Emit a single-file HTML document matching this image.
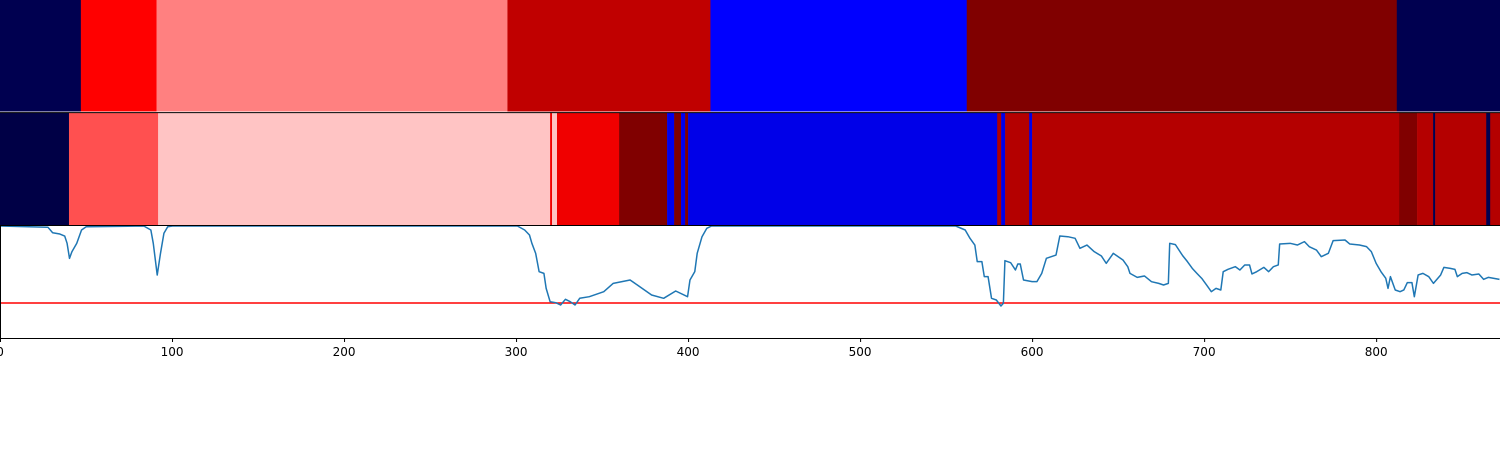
<!DOCTYPE html>
<html><head><meta charset="utf-8">
<style>
html,body{margin:0;padding:0;background:#fff;width:1500px;height:450px;overflow:hidden}
svg{display:block}
text{font-family:"DejaVu Sans","Liberation Sans",sans-serif;font-size:12px;fill:#000}
</style></head>
<body>
<svg id="chart" width="1500" height="450" viewBox="0 0 1500 450" xmlns="http://www.w3.org/2000/svg">
<g id="band1"></g>
<g id="band2"></g>
<g id="plot"></g>
<g id="axis"></g>
</svg>
<script>
const band1Bounds = [0,47,91,295,413,562,812,872];
const band1Colors = ["#000050","#ff0000","#ff8080","#c00000","#0000ff","#800000","#000050"];
const band2Bounds = [0,40.1,91.9,319.8,320.9,323.8,359.9,387.8,391.9,395.9,398.3,400,579.7,582,584.3,598.3,600,813.4,823.8,833.1,834.3,864,866.3,872];
const band2Colors = ["#000046","#ff5050","#ffc4c4","#f00000","#ffc4c4","#f00000","#800000","#0000f0","#800000","#0000f0","#800000","#0000e8","#b00000","#0000e8","#b40000","#0000e8","#b40000","#800000","#b40000","#000050","#b40000","#000050","#b40000"];
const lineX = [0,27.9,30.6,34.8,37.6,39,40.4,41.8,44.6,47.4,50.1,83.6,87.7,89.1,91.4,93.3,95.3,97.5,100.3,300.8,305,307.8,309.2,311.4,313.4,316.2,317.5,319.8,323.1,325.9,328.7,331.5,334.3,337,342.6,351,356.5,366.3,370.5,378.8,385.8,392.8,399.7,401.1,403.9,405.3,408.1,410.9,413.6,555.6,561.1,563.9,566.7,568.1,570.8,572.2,574.4,576.4,579.2,581.9,583.3,584.2,587.5,590.3,591.7,593.1,595,600,602.8,605.6,608.3,613.9,616.1,620.8,625,627.8,631.9,636.1,640.3,643.1,647.2,652.8,655.6,656.9,661.1,665.3,669.4,673.6,676.4,679.2,680,683.3,687.5,690.3,693.1,695.8,698.6,701.4,704.2,706.9,709.7,711.1,713.9,718.1,720.8,723.6,726.4,727.8,730.6,734.7,737.5,740.3,743.1,743.9,750,754.2,758.3,761.1,765.3,768.1,772.2,775,781.9,784.7,790.3,794.4,797.2,800,802.8,805.6,806.9,808.3,811.1,813.9,816.1,818.1,820.8,822.2,824.4,827.2,830.6,833.3,837.5,839.4,843.1,845.8,847.2,850,852.8,855.6,859.7,862.5,865.3,871.7];
const lineY = [1,0.983,0.913,0.896,0.87,0.775,0.58,0.666,0.775,0.948,0.99,1,0.948,0.775,0.364,0.645,0.905,0.99,1,1,0.948,0.883,0.775,0.645,0.407,0.385,0.19,0.017,0.004,-0.026,0.048,0.017,-0.026,0.061,0.082,0.147,0.255,0.299,0.234,0.104,0.061,0.156,0.082,0.299,0.407,0.645,0.861,0.97,1,1,0.948,0.84,0.753,0.537,0.537,0.342,0.342,0.061,0.039,-0.039,-0.004,0.55,0.524,0.429,0.507,0.507,0.299,0.277,0.277,0.385,0.58,0.623,0.87,0.861,0.84,0.71,0.753,0.667,0.61,0.515,0.645,0.559,0.472,0.385,0.333,0.351,0.277,0.255,0.234,0.255,0.775,0.758,0.615,0.537,0.45,0.385,0.32,0.234,0.147,0.19,0.169,0.407,0.437,0.472,0.429,0.494,0.494,0.377,0.407,0.463,0.407,0.472,0.494,0.766,0.775,0.753,0.797,0.732,0.688,0.602,0.645,0.81,0.818,0.766,0.753,0.732,0.667,0.515,0.407,0.32,0.19,0.342,0.169,0.147,0.169,0.264,0.264,0.082,0.364,0.385,0.342,0.255,0.364,0.463,0.45,0.437,0.342,0.385,0.394,0.364,0.377,0.307,0.333,0.307];
const threshold = 0;
const xTicks = [0,100,200,300,400,500,600,700,800];

const NS = "http://www.w3.org/2000/svg";
const X0 = 0, X1 = 1500, XMAX = 872;
const sx = v => X0 + v / XMAX * (X1 - X0);
const PT = 226, PB = 338;
const sy = v => 303 - Math.min(v, 1) * 77;

function mk(tag, attrs, parent){
  const e = document.createElementNS(NS, tag);
  for (const k in attrs) e.setAttribute(k, attrs[k]);
  parent.appendChild(e);
  return e;
}
function drawBand(gid, bounds, colors, y, h, name){
  const g = document.getElementById(gid);
  for (let i = 0; i < colors.length; i++){
    const r = mk('rect', {x: sx(bounds[i]), y: y, width: Math.max(0.5, sx(bounds[i+1]) - sx(bounds[i])) + 0.3, height: h, fill: colors[i]}, g);
    
    
  }
}
drawBand('band1', band1Bounds, band1Colors, 0, 111.5, 'top-band');
drawBand('band2', band2Bounds, band2Colors, 113, 112.5, 'second-band');
const svg = document.getElementById('chart');
const b1 = mk('line', {x1:0, x2:1500, y1:112.6, y2:112.6, stroke:'#000', 'stroke-width':1}, svg);


const b2 = mk('line', {x1:0, x2:1500, y1:225.5, y2:225.5, stroke:'#000', 'stroke-width':1}, svg);



const plot = document.getElementById('plot');
const thr = mk('line', {x1:sx(0), x2:sx(XMAX), y1:sy(threshold), y2:sy(threshold), stroke:'#ff0000', 'stroke-width':1.5}, plot);


let d = '';
for (let i = 0; i < lineX.length; i++) d += (i ? 'L' : 'M') + sx(lineX[i]).toFixed(2) + ',' + sy(lineY[i]).toFixed(2);
const ln = mk('path', {d: d, fill:'none', stroke:'#1f77b4', 'stroke-width':1.5, 'stroke-linejoin':'round'}, plot);



const axis = document.getElementById('axis');
const ls = mk('line', {x1:0.5, x2:0.5, y1:PT, y2:PB, stroke:'#000', 'stroke-width':1}, axis);


const bs = mk('line', {x1:0, x2:1500, y1:PB+0.5, y2:PB+0.5, stroke:'#000', 'stroke-width':1}, axis);


xTicks.forEach(t => {
  const tk = mk('line', {x1:sx(t)+0.5, x2:sx(t)+0.5, y1:PB, y2:PB+4, stroke:'#000', 'stroke-width':1}, axis);
  
  
  const tx = mk('text', {x: sx(t), y: PB+18, 'text-anchor':'middle'}, axis);
  tx.textContent = String(t);
  
  
});
</script>
</body></html>
